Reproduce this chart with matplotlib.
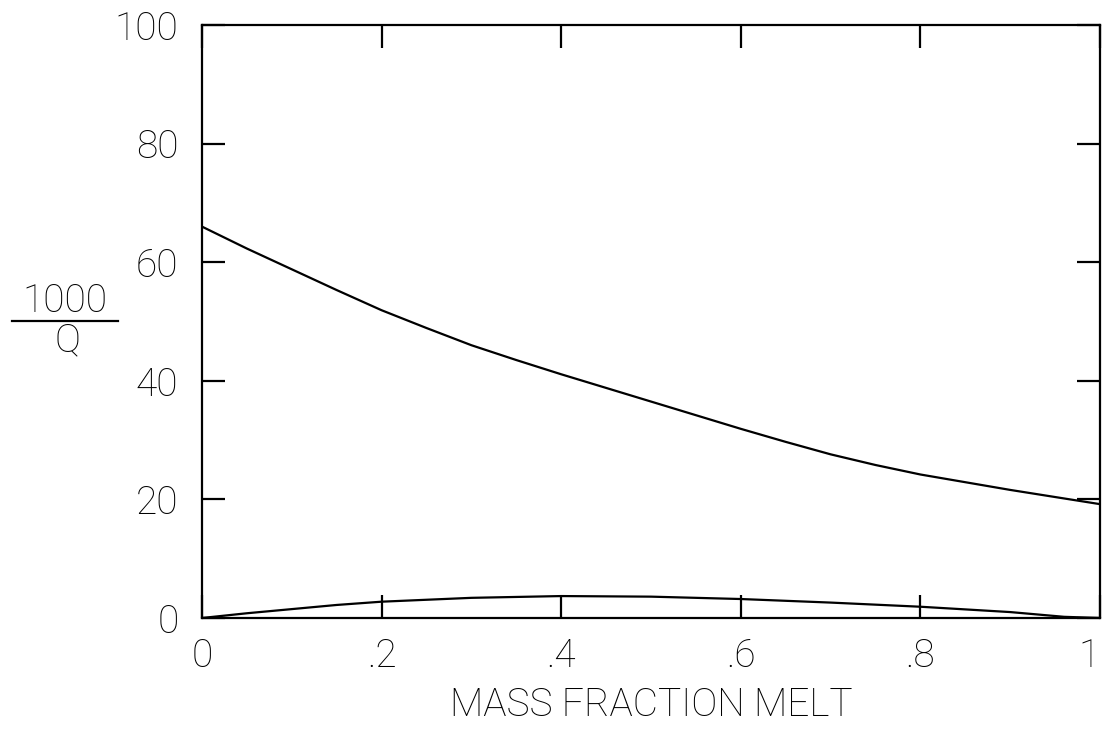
# 1000/Q versus mass fraction of melt

import numpy as np
import matplotlib.pyplot as plt
from matplotlib.lines import Line2D

plt.rcParams['font.family'] = ['Roboto', 'DejaVu Sans']
plt.rcParams['font.weight'] = 'light'
plt.rcParams['axes.labelweight'] = 'light'

melt_frac = [0.0, 0.05, 0.1, 0.15, 0.2, 0.25, 0.3, 0.35, 0.4, 0.45, 0.5,
             0.55, 0.6, 0.65, 0.7, 0.75, 0.8, 0.85, 0.9, 0.95, 1.0]
inv_q_upper = [66.0, 62.3, 58.8, 55.3, 51.9, 48.9, 46.0, 43.5, 41.1, 38.8, 36.5,
               34.2, 31.9, 29.7, 27.6, 25.8, 24.2, 22.9, 21.6, 20.4, 19.2]

melt_frac_low = [0.0, 0.05, 0.1, 0.15, 0.2, 0.3, 0.4, 0.5, 0.6, 0.7, 0.8, 0.9, 0.96, 1.0]
inv_q_lower = [0.0, 0.8, 1.5, 2.2, 2.75, 3.4, 3.7, 3.6, 3.2, 2.6, 1.9, 1.0, 0.2, 0.0]

x_ticks = [0, 0.2, 0.4, 0.6, 0.8, 1.0]
x_tick_labels = ['0', '.2', '.4', '.6', '.8', '1']
y_ticks = [0, 20, 40, 60, 80, 100]
y_tick_labels = ['0', '20', '40', '60', '80', '100']

fs = 28
lw = 1.6

fig = plt.figure(figsize=(11.09, 7.32), dpi=100)
ax = fig.add_axes([202 / 1109, 114 / 732, 898 / 1109, 593 / 732])

ax.plot(melt_frac, inv_q_upper, color='black', lw=lw)
ax.plot(melt_frac_low, inv_q_lower, color='black', lw=lw)

ax.set_xlim(0, 1)
ax.set_ylim(0, 100)
ax.set_xticks(x_ticks)
ax.set_xticklabels(x_tick_labels)
ax.set_yticks(y_ticks)
ax.set_yticklabels(y_tick_labels)

ax.tick_params(direction='in', length=16.5, width=lw, top=True, right=True,
               labelsize=fs)
ax.tick_params(axis='x', pad=14)
ax.tick_params(axis='y', pad=17)
ax.get_xticklabels()[-1].set_ha('right')
for s in ax.spines.values():
    s.set_linewidth(lw)

ax.set_xlabel('MASS FRACTION MELT', fontsize=fs, fontweight='light', labelpad=8)

# stacked fraction label on the left
fig.text(65 / 1109, 1 - 301 / 732, '1000', fontsize=fs, ha='center', va='center')
fig.text(67 / 1109, 1 - 341 / 732, 'Q', fontsize=fs, ha='center', va='center')
fig.add_artist(Line2D([12 / 1109, 118 / 1109], [1 - 321 / 732, 1 - 321 / 732],
                      transform=fig.transFigure, color='black', lw=lw))

fig.savefig('out.png', dpi=100)
